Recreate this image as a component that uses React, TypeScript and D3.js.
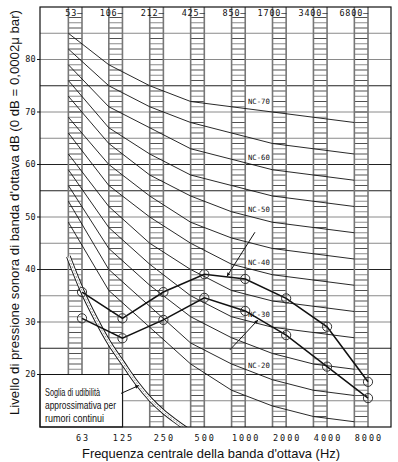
import React from 'react';
import * as d3 from 'd3';

// ---- data ----
const bandCenters = [63, 125, 250, 500, 1000, 2000, 4000, 8000];
const bandCenterLabels = ['63', '125', '250', '500', '1000', '2000', '4000', '8000'];
const oldBandLabels = ['53', '106', '212', '425', '850', '1700', '3400', '6800'];
const yTickValues = [20, 30, 40, 50, 60, 70, 80];
const gridLevels = [15, 20, 25, 30, 35, 40, 45, 50, 55, 60, 65, 70, 75, 80, 85];
const darkGridLevels = [20, 25, 40, 55, 60, 75];

const nc15 = [49, 36, 29, 22, 17, 14, 12, 11];
const nc20 = [53, 40, 33, 26, 22, 19, 17, 16];
const nc25 = [56, 44, 37, 31, 27, 24, 22, 21];
const nc30 = [59, 48, 41, 35, 31, 29, 28, 27];
const nc35 = [62, 52, 45, 40, 36, 34, 33, 32];
const nc40 = [66, 56, 50, 45, 41, 39, 38, 37];
const nc45 = [69, 60, 54, 49, 46, 44, 43, 42];
const nc50 = [73, 64, 58, 54, 51, 49, 48, 47];
const nc55 = [76, 67, 62, 58, 56, 54, 53, 52];
const nc60 = [79, 71, 67, 63, 61, 59, 58, 57];
const nc65 = [82, 75, 71, 68, 66, 64, 63, 62];
const nc70 = [85, 79, 75, 72, 71, 70, 69, 68];
const ncNames = ['NC-15', 'NC-20', 'NC-25', 'NC-30', 'NC-35', 'NC-40', 'NC-45', 'NC-50', 'NC-55', 'NC-60', 'NC-65', 'NC-70'];
const ncValues = [nc15, nc20, nc25, nc30, nc35, nc40, nc45, nc50, nc55, nc60, nc65, nc70];
const labeledCurves = ['NC-20', 'NC-30', 'NC-40', 'NC-50', 'NC-60', 'NC-70'];
const ncLabelFreq = 1260;

const upperSpectrum = [35.7, 30.7, 35.7, 39.1, 38.2, 34.5, 29.1, 18.6];
const lowerSpectrum = [30.7, 26.9, 30.4, 34.6, 32.1, 27.5, 21.5, 15.5];

const thresholdFreqs = [50, 63, 80, 100, 125, 160, 200, 250, 315, 400];
const thresholdLevels = [42.5, 36, 30.5, 26, 22.3, 18.3, 15.3, 12.9, 10.9, 9];

const arrowFrom = [[1179, 47.1], [772, 24.7], [122, 16.4]];
const arrowTo = [[734, 38.7], [1241, 30.4], [165, 17.9]];

const legendLines = ['Soglia di udibilità', 'approssimativa per', 'rumori continui'];
const legendWidths = [55, 71, 59];

const yTitle = "Livello di pressione sonora di banda d'ottava dB (0 dB = 0,0002\u03BC bar)";
const xTitle = "Frequenza centrale della banda d'ottava (Hz)";

export default function App() {
  const W = 398, H = 462;
  const left = 40, right = 391, top = 7, bottom = 427;
  const x = d3.scaleLog().domain([63, 8000]).range([82, 368]);
  const y = d3.scaleLinear().domain([80, 20]).range([59.5, 374.5]);
  const third = Math.pow(2, 1 / 3);
  const nodeFreqs = bandCenters.map((f) => f / third);

  const ncLine = d3.line<number>().x((_, i) => x(nodeFreqs[i])).y((d) => y(d));
  const specLine = d3.line<number>().x((_, i) => x(bandCenters[i])).y((d) => y(d));
  const thrLine = d3.line<number>().x((_, i) => x(thresholdFreqs[i])).y((d) => y(d)).curve(d3.curveMonotoneX);

  const stripeLevels = d3.range(11, 89);
  const mono = 'DejaVu Sans Mono';
  const sans = 'Liberation Sans, Arial, sans-serif';

  const labelValue = (vals: number[]) => {
    const f0 = nodeFreqs[4], f1 = nodeFreqs[5];
    const t = Math.log2(ncLabelFreq / f0) / Math.log2(f1 / f0);
    return vals[4] + (vals[5] - vals[4]) * t + 1.7;
  };

  const boxRight = x(125);
  const boxTop = y(20);

  return (
    <svg width={W} height={H} style={{ position: 'absolute', left: 0, top: 0, background: '#fff' }}>
      <defs>
        <clipPath id="plotClip">
          <rect x={left} y={top} width={right - left} height={bottom - top} />
        </clipPath>
        <marker id="ah" viewBox="0 0 10 10" refX="10" refY="5" markerWidth="8" markerHeight="3.6" orient="auto" markerUnits="userSpaceOnUse">
          <path d="M0,0 L10,5 L0,10 z" fill="#111" />
        </marker>
      </defs>
      <rect x={0} y={0} width={W} height={H} fill="#fff" />

      {gridLevels.map((g) => (
        <line key={'g' + g} x1={left} x2={right} y1={y(g)} y2={y(g)}
          stroke={darkGridLevels.includes(g) ? '#222' : '#8a8a8a'} strokeWidth={1} />
      ))}

      {bandCenters.map((f, i) => {
        const x0 = x(nodeFreqs[i]);
        const x1 = x(f);
        return (
          <g key={'c' + f}>
            {stripeLevels.map((s) => (
              <line key={s} x1={x0} x2={x1} y1={y(s)} y2={y(s)} stroke={s % 2 === 0 ? '#333' : '#777'} strokeWidth={0.85} />
            ))}
            <line x1={x0} x2={x0} y1={top} y2={bottom} stroke="#777" strokeWidth={1.6} />
            <line x1={x1} x2={x1} y1={top} y2={bottom} stroke="#777" strokeWidth={1.6} />
          </g>
        );
      })}

      <g clipPath="url(#plotClip)">
        {ncValues.map((vals, i) => (
          <path key={ncNames[i]} d={ncLine(vals) || ''} fill="none" stroke="#111" strokeWidth={0.9} />
        ))}
      </g>

      <rect x={left} y={boxTop} width={boxRight - left} height={bottom - boxTop} fill="#fff" stroke="#111" strokeWidth={1} />
      {legendLines.map((t, i) => (
        <text key={t} x={45} y={395.5 + i * 13.3} fontFamily={sans} fontSize={10.3} fill="#111"
          textLength={legendWidths[i]} lengthAdjust="spacingAndGlyphs">{t}</text>
      ))}

      <g clipPath="url(#plotClip)">
        <path d={thrLine(thresholdLevels) || ''} fill="none" stroke="#111" strokeWidth={4.6} />
        <path d={thrLine(thresholdLevels) || ''} fill="none" stroke="#fff" strokeWidth={2.8} />
        <path d={thrLine(thresholdLevels) || ''} fill="none" stroke="#555" strokeWidth={0.6} strokeDasharray="2,1.5" />
      </g>

      <path d={specLine(upperSpectrum) || ''} fill="none" stroke="#111" strokeWidth={1.6} />
      <path d={specLine(lowerSpectrum) || ''} fill="none" stroke="#111" strokeWidth={1.5} />
      {[upperSpectrum, lowerSpectrum].map((s, k) =>
        s.map((v, i) => (
          <circle key={k + '-' + i} cx={x(bandCenters[i])} cy={y(v)} r={4.6} fill="none" stroke="#333" strokeWidth={1} />
        ))
      )}

      {arrowFrom.map((a, i) => (
        <line key={'a' + i} x1={x(a[0])} y1={y(a[1])} x2={x(arrowTo[i][0])} y2={y(arrowTo[i][1])}
          stroke="#111" strokeWidth={1} markerEnd="url(#ah)" />
      ))}

      {labeledCurves.map((name) => {
        const vals = ncValues[ncNames.indexOf(name)];
        return (
          <text key={name} x={x(ncLabelFreq)} y={y(labelValue(vals))} dy="0.35em" textAnchor="middle"
            fontFamily={mono} fontSize={7.3} fill="#111">{name}</text>
        );
      })}

      {oldBandLabels.map((t, i) => (
        <text key={t} x={x(bandCenters[i]) + 1} y={16} textAnchor="end" fontFamily={mono} fontSize={8.5}
          letterSpacing={0.8} fill="#111">{t + '\u2014'}</text>
      ))}

      {bandCenterLabels.map((t, i) => (
        <text key={t} x={x(bandCenters[i]) + 1} y={441} textAnchor="middle" fontFamily={mono} fontSize={8.5}
          letterSpacing={2} fill="#111">{t}</text>
      ))}

      {yTickValues.map((v) => (
        <g key={'yt' + v}>
          <line x1={37} x2={left} y1={y(v)} y2={y(v)} stroke="#111" strokeWidth={1} />
          <text x={36} y={y(v)} dy="0.35em" textAnchor="end" fontFamily={mono} fontSize={8.5} letterSpacing={0.3} fill="#111">{v}</text>
        </g>
      ))}

      <rect x={left} y={top} width={right - left} height={bottom - top} fill="none" stroke="#111" strokeWidth={1.2} />

      <text transform={`translate(18.5,${212.5}) rotate(-90)`} textAnchor="middle" fontFamily={sans} fontSize={12.8}
        fill="#111" textLength={405} lengthAdjust="spacingAndGlyphs">{yTitle}</text>
      <text x={211} y={458} textAnchor="middle" fontFamily={sans} fontSize={12.8} fill="#111"
        textLength={258} lengthAdjust="spacingAndGlyphs">{xTitle}</text>
    </svg>
  );
}
